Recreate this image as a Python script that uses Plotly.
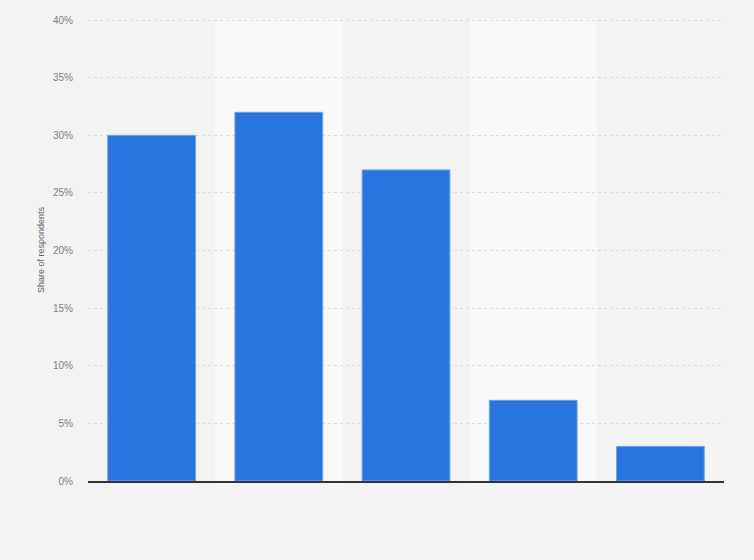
import plotly.graph_objects as go

# survey answers (labels are not shown on the chart)
categories = ['Option 1', 'Option 2', 'Option 3', 'Option 4', 'Option 5']
shares = [30, 32, 27, 7, 3]
y_ticks = [0, 5, 10, 15, 20, 25, 30, 35, 40]
y_tick_labels = [f'{t}%' for t in y_ticks]

fig = go.Figure(go.Bar(
    x=categories,
    y=shares,
    marker=dict(color='#2876dd', line=dict(color='#6ea3ea', width=1)),
    hoverinfo='y',
))

# lighter bands behind every second category
for i in range(1, len(categories), 2):
    fig.add_shape(type='rect', xref='x', yref='paper', x0=i - 0.5, x1=i + 0.5,
                  y0=0, y1=1, fillcolor='#f8f8f8', line_width=0, layer='below')

fig.update_layout(
    width=754, height=560,
    margin=dict(l=88, r=30, t=19, b=79),
    paper_bgcolor='#f3f3f3',
    plot_bgcolor='#f3f3f3',
    bargap=0.31,
    showlegend=False,
    font=dict(family='Liberation Sans, Arial, sans-serif', size=10, color='#808080'),
)
fig.update_xaxes(showticklabels=False, showgrid=False, showline=True,
                 linecolor='#333333', linewidth=1.5, range=[-0.5, 4.5])
# range topped just above 40 so the 40% grid line still draws
fig.update_yaxes(range=[0, 40.1], tickvals=y_ticks, ticktext=y_tick_labels,
                 showgrid=True, gridcolor='#dcdcdc', griddash='dot', gridwidth=1,
                 zeroline=False, ticks='', ticklabelstandoff=14,
                 title=dict(text='Share of respondents', font=dict(size=9, color='#666666'), standoff=6))

# drop the page margin so the figure sits at the window corner
fig.write_html("out.html", config={'displayModeBar': False},
               post_script="document.body.style.margin='0';")
